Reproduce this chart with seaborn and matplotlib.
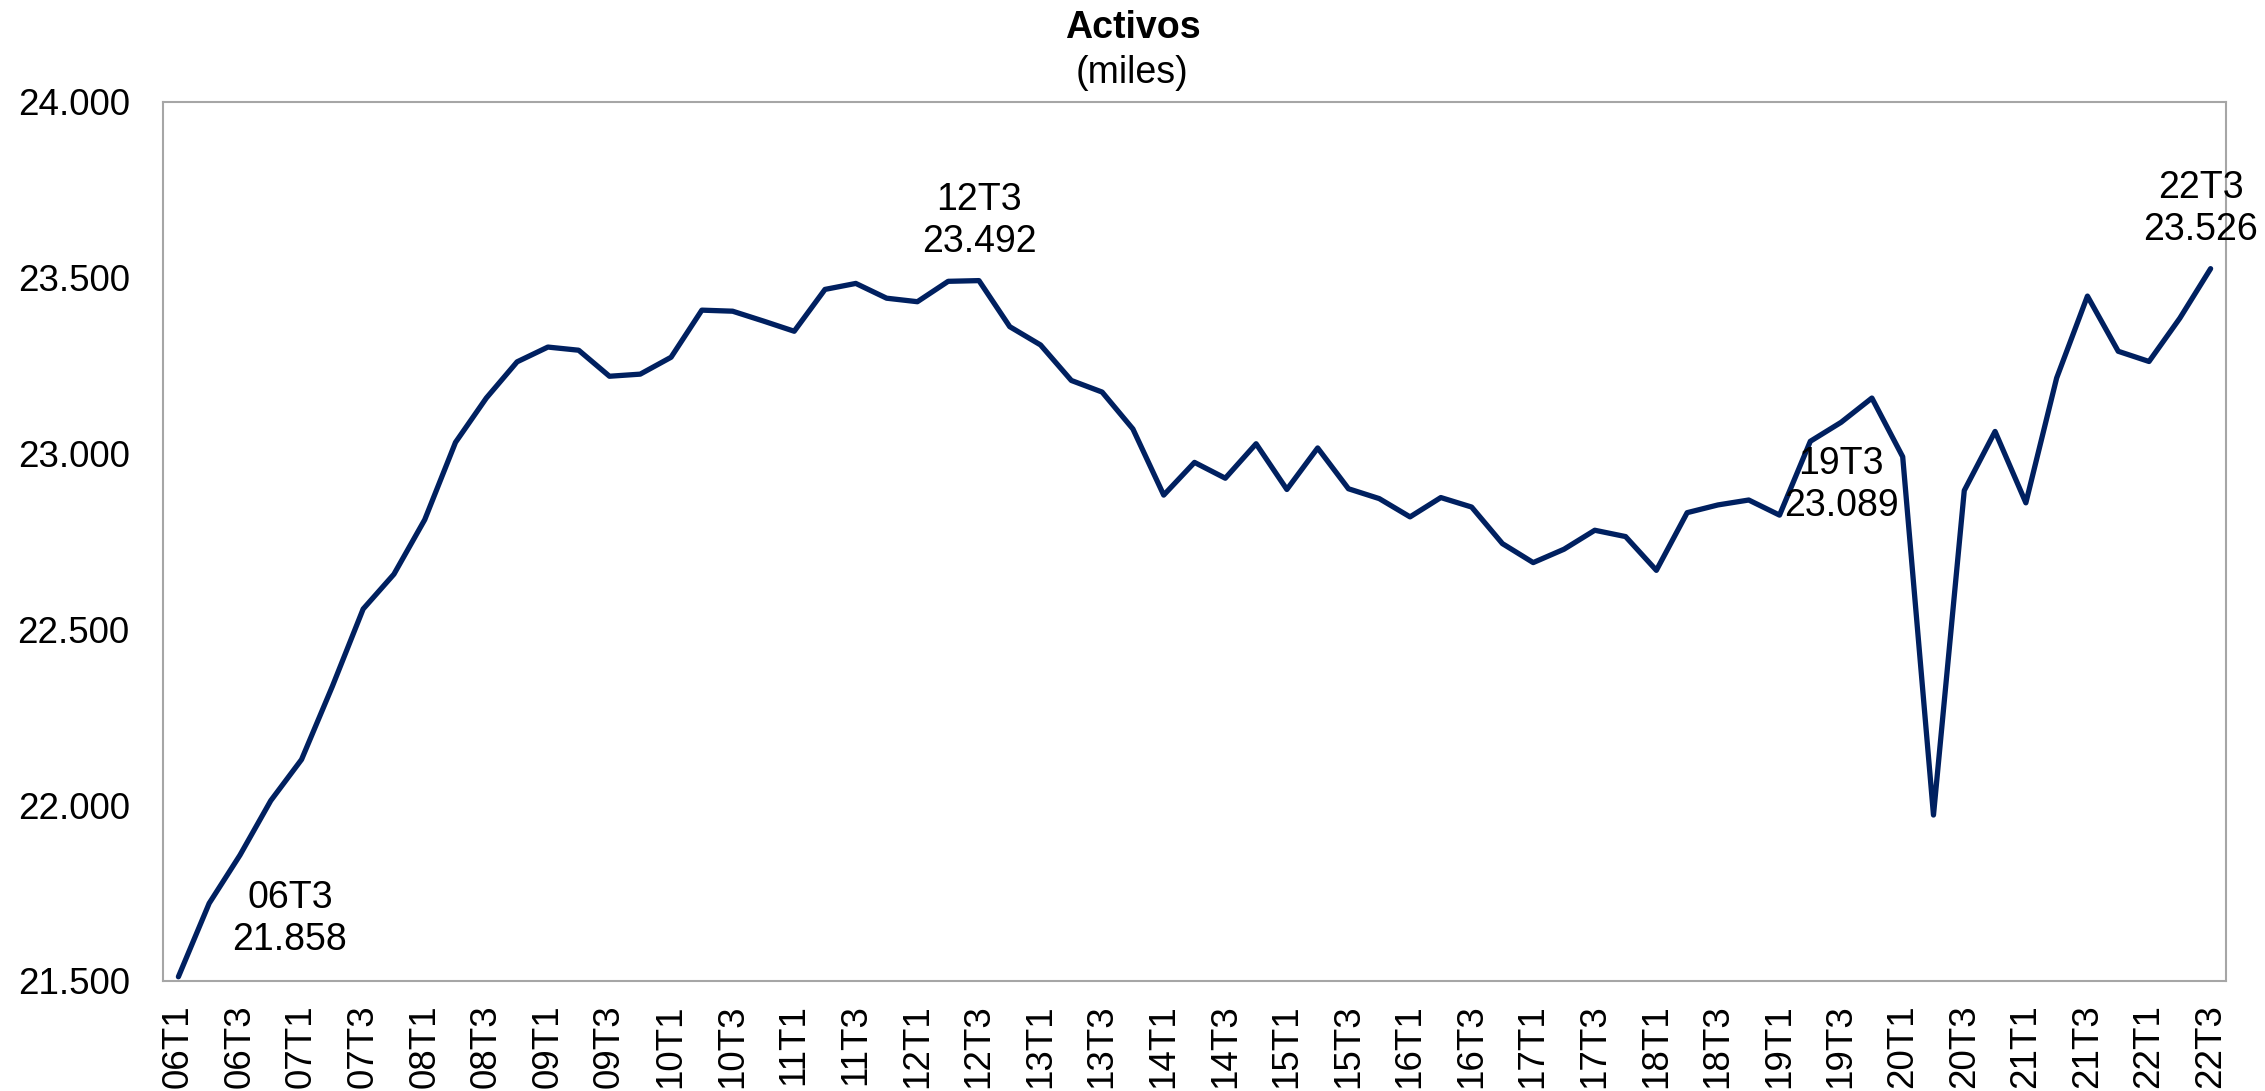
import pandas as pd
import numpy as np
import matplotlib
matplotlib.use("Agg")
import matplotlib.pyplot as plt
import seaborn as sns

# quarterly series 06T1 .. 22T3 (miles)
years = [f"{y:02d}" for y in range(6, 23)]
quarters = [f"{y}T{q}" for y in years for q in range(1, 5)][:67]
activos = [21512, 21721, 21858, 22013, 22130, 22338, 22558, 22657, 22812, 23032,
           23158, 23261, 23303, 23294, 23220, 23226, 23274, 23408, 23405, 23377,
           23348, 23467, 23484, 23442, 23432, 23490, 23492, 23361, 23309, 23208,
           23175, 23070, 22882, 22975, 22930, 23028, 22898, 23016, 22900, 22872,
           22820, 22875, 22848, 22744, 22690, 22728, 22782, 22764, 22668, 22832,
           22854, 22868, 22825, 23035, 23089, 23158, 22991, 21972, 22895, 23063,
           22860, 23215, 23448, 23291, 23262, 23385, 23526]

# labelled points and their label offsets (points)
highlight = ["06T3", "12T3", "19T3", "22T3"]
label_offsets = [(36, -46), (0, 43), (0, -45), (-7, 43)]

df = pd.DataFrame({"periodo": quarters, "activos": activos})
df["pos"] = np.arange(len(df))

sns.set_theme(style="white")
plt.rcParams["font.family"] = ["Liberation Sans", "DejaVu Sans"]
plt.rcParams["text.color"] = "black"

fig = plt.figure(figsize=(22.65, 10.91), dpi=100)
ax = fig.add_axes([163 / 2265, 1 - 981 / 1091, (2226 - 163) / 2265, (981 - 102) / 1091])

sns.lineplot(data=df, x="pos", y="activos", color="#002060", linewidth=3.8,
             ax=ax, solid_joinstyle="round", solid_capstyle="round")

ax.set_xlim(-0.5, len(df) - 0.5)
ax.set_ylim(21500, 24000)
yt = np.arange(21500, 24001, 500)
ax.set_yticks(yt)
ax.set_yticklabels([f"{v:,.0f}".replace(",", ".") for v in yt])
ax.set_xticks(df["pos"][::2])
ax.set_xticklabels(df["periodo"][::2], rotation=90)
ax.tick_params(axis="y", length=0, pad=24, labelsize=26.5, labelcolor="black")
ax.tick_params(axis="x", length=0, pad=17, labelsize=26.5, labelcolor="black")
ax.set_xlabel("")
ax.set_ylabel("")

for s in ax.spines.values():
    s.set_visible(True)
    s.set_color("#A6A6A6")
    s.set_linewidth(1.5)

for lab, off in zip(highlight, label_offsets):
    row = df[df["periodo"] == lab].iloc[0]
    txt = f"{lab}\n{row.activos:,.0f}".replace(",", ".")
    ax.annotate(txt, xy=(row.pos, row.activos), xytext=off, textcoords="offset points",
                ha="center", va="center", fontsize=27, color="black")

fig.text(0.5, 1 - 38 / 1091, "Activos", ha="center", va="baseline",
         fontsize=27, fontweight="bold", color="black")
fig.text(0.5, 1 - 83 / 1091, "(miles)", ha="center", va="baseline", fontsize=27,
         color="black")

fig.savefig("out.png", dpi=100)
